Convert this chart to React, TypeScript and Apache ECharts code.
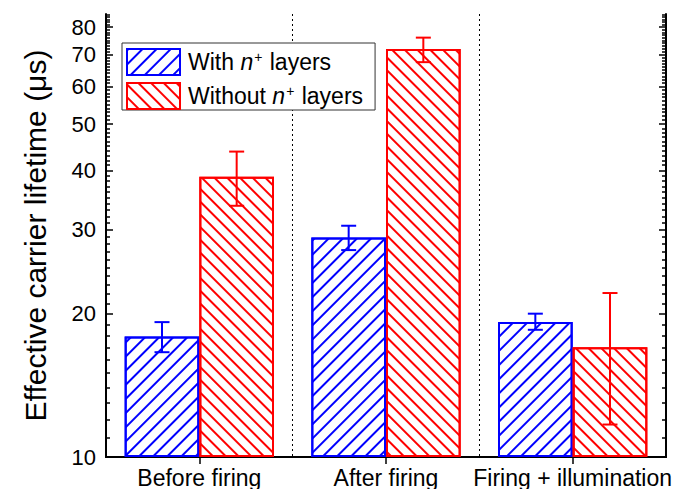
import React, { useEffect, useRef } from "react";
import * as echarts from "echarts";

const categories = ["Before firing", "After firing", "Firing + illumination"];
const seriesNames = ["With n+ layers", "Without n+ layers"];
const withN = [17.9, 28.9, 19.2];
const withNLow = [16.6, 27.2, 18.5];
const withNHigh = [19.2, 30.6, 20.0];
const withoutN = [38.8, 71.9, 17.0];
const withoutNLow = [33.7, 67.5, 11.7];
const withoutNHigh = [43.8, 76.0, 22.1];
const majorTicks = [10, 20, 30, 40, 50, 60, 70, 80];
const minorTicks = [
  11, 12, 13, 14, 15, 16, 17, 18, 19, 21, 22, 23, 24, 25, 26, 27, 28, 29, 31, 32, 33, 34, 35, 36, 37, 38, 39,
  41, 42, 43, 44, 45, 46, 47, 48, 49, 51, 52, 53, 54, 55, 56, 57, 58, 59, 61, 62, 63, 64, 65, 66, 67, 68, 69,
  71, 72, 73, 74, 75, 76, 77, 78, 79, 81, 82, 83, 84, 85,
];
const Y_MIN = 10;
const Y_MAX = 85.2;

const BLUE = "#0000ff";
const RED = "#ff0000";
const FONT = "Liberation Sans, Arial, sans-serif";

const lg = (v: number) => Math.log10(v / Y_MIN);

export default function App() {
  const ref = useRef<HTMLDivElement>(null);
  useEffect(() => {
    if (!ref.current) return;
    const chart = echarts.init(ref.current, undefined, { renderer: "svg" });
    const yMax = lg(Y_MAX);
    const baseY = {
      type: "value" as const,
      min: 0,
      max: yMax,
      splitLine: { show: false },
    };
    const errData: number[][] = [];
    categories.forEach((_, i) => {
      errData.push([i, lg(withNLow[i]), lg(withNHigh[i]), 0]);
      errData.push([i, lg(withoutNLow[i]), lg(withoutNHigh[i]), 1]);
    });
    const richStyles = {
      f: { fontSize: 23, fontFamily: FONT, color: "#000", padding: [0, 0, 0, 3] },
      a: { fontSize: 23, fontFamily: FONT, color: "#000" },
      i: { fontSize: 23, fontFamily: FONT, color: "#000", fontStyle: "italic" },
      s: { fontSize: 14, fontFamily: FONT, color: "#000", padding: [0, 1, 10, 1] },
    };
    chart.setOption({
      animation: false,
      backgroundColor: "#fff",
      grid: { left: 106, right: 23, top: 14, bottom: 32, containLabel: false },
      legend: {
        orient: "vertical",
        left: 122,
        top: 43,
        itemWidth: 53,
        itemHeight: 26,
        itemGap: 6,
        padding: [5, 12, 0, 4],
        borderColor: "#333",
        borderWidth: 1,
        backgroundColor: "#fff",
        icon: "rect",
        data: [
          { name: seriesNames[0], itemStyle: { borderColor: BLUE, borderWidth: 2 } },
          { name: seriesNames[1], itemStyle: { borderColor: RED, borderWidth: 2 } },
        ],
        formatter: (name: string) =>
          name === seriesNames[0]
            ? "{f|With }{i|n}{s|+}{a| layers}"
            : "{f|Without }{i|n}{s|+}{a| layers}",
        textStyle: { fontSize: 23, fontFamily: FONT, color: "#000", rich: richStyles },
      },
      xAxis: [
        {
          type: "category",
          data: categories,
          position: "bottom",
          axisLine: { lineStyle: { color: "#000", width: 2 } },
          axisTick: { show: true, inside: true, alignWithLabel: true, interval: 0, length: 7, lineStyle: { color: "#000", width: 1.5 } },
          axisLabel: { fontSize: 23, fontFamily: FONT, color: "#000", margin: 9, interval: 0, hideOverlap: false },
          splitLine: { show: true, interval: 0, showMinLine: false, showMaxLine: false, lineStyle: { color: "#000", width: 1, type: [2, 3] } },
        },
        {
          type: "category",
          data: categories,
          position: "top",
          axisLine: { lineStyle: { color: "#000", width: 2 } },
          axisTick: { show: true, inside: true, alignWithLabel: true, interval: 0, length: 7, lineStyle: { color: "#000", width: 1.5 } },
          axisLabel: { show: false, interval: 0 },
          splitLine: { show: false },
        },
      ],
      yAxis: [
        {
          ...baseY,
          position: "left",
          name: "Effective carrier lifetime (\u03bcs)",
          nameLocation: "middle",
          nameGap: 56,
          nameTextStyle: { fontSize: 30, fontFamily: FONT, color: "#000" },
          axisLine: { show: true, lineStyle: { color: "#000", width: 2 } },
          axisTick: { show: true, inside: true, length: 7, customValues: majorTicks.map(lg), lineStyle: { color: "#000", width: 1.5 } },
          axisLabel: {
            fontSize: 22,
            fontFamily: FONT,
            color: "#000",
            margin: 10,
            customValues: majorTicks.map(lg),
            formatter: (v: number) => String(Math.round(Y_MIN * Math.pow(10, v))),
          },
        },
        {
          ...baseY,
          position: "left",
          axisLine: { show: false },
          axisTick: { show: true, inside: true, length: 4, customValues: minorTicks.map(lg), lineStyle: { color: "#000", width: 1.5 } },
          axisLabel: { show: false },
        },
        {
          ...baseY,
          position: "right",
          axisLine: { show: true, lineStyle: { color: "#000", width: 2 } },
          axisTick: { show: true, inside: true, length: 7, customValues: majorTicks.map(lg), lineStyle: { color: "#000", width: 1.5 } },
          axisLabel: { show: false },
        },
        {
          ...baseY,
          position: "right",
          axisLine: { show: false },
          axisTick: { show: true, inside: true, length: 4, customValues: minorTicks.map(lg), lineStyle: { color: "#000", width: 1.5 } },
          axisLabel: { show: false },
        },
      ],
      series: [
        {
          name: seriesNames[0],
          type: "bar",
          data: withN.map(lg),
          barGap: "0%",
          barCategoryGap: "20%",
          itemStyle: {
            color: "#fff",
            borderColor: BLUE,
            borderWidth: 2,
            decal: {
              symbol: "rect",
              symbolSize: 1,
              color: BLUE,
              backgroundColor: "#fff",
              dashArrayX: [1, 0],
              dashArrayY: [2, 8],
              rotation: -Math.PI / 4,
            },
          },
        },
        {
          name: seriesNames[1],
          type: "bar",
          data: withoutN.map(lg),
          barGap: "0%",
          barCategoryGap: "20%",
          itemStyle: {
            color: "#fff",
            borderColor: RED,
            borderWidth: 2,
            decal: {
              symbol: "rect",
              symbolSize: 1,
              color: RED,
              backgroundColor: "#fff",
              dashArrayX: [1, 0],
              dashArrayY: [2, 7],
              rotation: Math.PI / 4,
            },
          },
        },
        {
          type: "custom",
          z: 5,
          data: errData,
          encode: { x: 0, y: [1, 2] },
          renderItem: (params: any, api: any) => {
            const i = api.value(0);
            const lo = api.value(1);
            const hi = api.value(2);
            const s = api.value(3);
            const bandW = api.size([1, 0])[0];
            const barW = (bandW * 0.8) / 2;
            const xOff = (s === 0 ? -1 : 1) * (barW / 2);
            const p1 = api.coord([i, lo]);
            const p2 = api.coord([i, hi]);
            const x = p1[0] + xOff;
            const c = s === 0 ? BLUE : RED;
            const cap = 7.5;
            const st = { stroke: c, lineWidth: 2 };
            return {
              type: "group",
              children: [
                { type: "line", shape: { x1: x, y1: p1[1], x2: x, y2: p2[1] }, style: st },
                { type: "line", shape: { x1: x - cap, y1: p1[1], x2: x + cap, y2: p1[1] }, style: st },
                { type: "line", shape: { x1: x - cap, y1: p2[1], x2: x + cap, y2: p2[1] }, style: st },
              ],
            };
          },
        },
      ],
    });
    return () => chart.dispose();
  }, []);
  return <div ref={ref} style={{ width: 689, height: 489, position: "absolute", left: 0, top: 0 }} />;
}
